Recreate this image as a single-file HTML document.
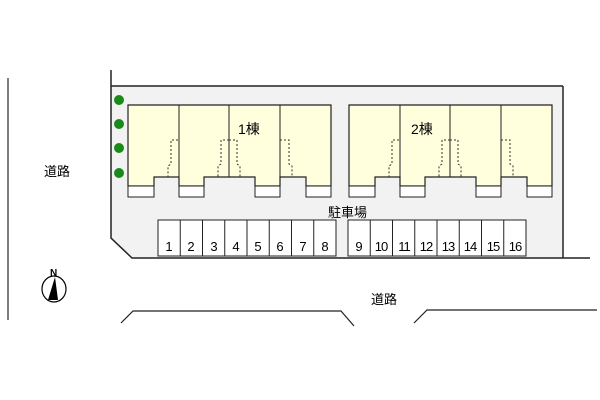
<!DOCTYPE html>
<html><head><meta charset="utf-8"><style>
html,body{margin:0;padding:0;background:#fff;width:600px;height:400px;overflow:hidden}
svg text{font-family:"Liberation Sans","Noto Sans CJK JP",sans-serif;fill:#000}
</style></head><body>
<svg width="600" height="400" viewBox="0 0 600 400" xmlns="http://www.w3.org/2000/svg">
<line x1="8" y1="78" x2="8" y2="320" stroke="#555" stroke-width="1.5"/>
<text x="44" y="176" font-size="13">道路</text>
<ellipse cx="54" cy="289" rx="12" ry="13" fill="#fff" stroke="#000" stroke-width="1.2"/>
<polygon points="55,277 48,300 58,300" fill="#000"/>
<text x="50" y="276" font-size="10" font-weight="bold">N</text>
<polygon points="111,86 563,86 563,258 132,258 111,238" fill="#f2f2f2" stroke="none"/>
<polyline points="111,70 111,238 132,258 590,258" fill="none" stroke="#222" stroke-width="1.5"/>
<line x1="111" y1="86" x2="563" y2="86" stroke="#222" stroke-width="1.5"/>
<line x1="563" y1="86" x2="563" y2="258" stroke="#222" stroke-width="1.5"/>
<g fill="#1a8a1a"><circle cx="119" cy="100" r="5"/><circle cx="119" cy="124" r="5"/><circle cx="119" cy="148" r="5"/><circle cx="119" cy="173" r="5"/></g>
<defs>
<g id="bld">
<polygon points="0,0 203,0 203,81 178,81 178,72 152,72 152,81 127,81 127,72 76,72 76,81 51,81 51,72 26,72 26,81 0,81" fill="#ffffdd" stroke="#222" stroke-width="1.2"/>
<rect x="0" y="81" width="26" height="11" fill="#fff" stroke="#222"/>
<rect x="51" y="81" width="25" height="11" fill="#fff" stroke="#222"/>
<rect x="127" y="81" width="25" height="11" fill="#fff" stroke="#222"/>
<rect x="178" y="81" width="25" height="11" fill="#fff" stroke="#222"/>
<g stroke="#222" stroke-width="1"><line x1="51" y1="0" x2="51" y2="72"/><line x1="101" y1="0" x2="101" y2="72"/><line x1="152" y1="0" x2="152" y2="72"/></g>
<g fill="none" stroke="#333" stroke-width="1" stroke-dasharray="2,2">
<polyline points="50,35 43,35 43,59 40,61 40,72"/>
<polyline points="101,35 93,35 93,59 90,61 90,72"/>
<polyline points="101,35 109,35 109,59 112,61 112,72"/>
<polyline points="152,35 161,35 161,59 164,61 164,72"/>
</g>
</g>
<g id="park">
<rect x="0" y="0" width="178" height="36" fill="#fff" stroke="#222"/>
<g stroke="#222"><line x1="22.25" y1="0" x2="22.25" y2="36"/><line x1="44.5" y1="0" x2="44.5" y2="36"/><line x1="66.75" y1="0" x2="66.75" y2="36"/><line x1="89" y1="0" x2="89" y2="36"/><line x1="111.25" y1="0" x2="111.25" y2="36"/><line x1="133.5" y1="0" x2="133.5" y2="36"/><line x1="155.75" y1="0" x2="155.75" y2="36"/></g>
</g>
</defs>
<use href="#bld" x="128" y="105"/>
<use href="#bld" x="349" y="105"/>
<text x="238" y="134" font-size="14">1棟</text>
<text x="411" y="134" font-size="14">2棟</text>
<text x="328" y="217" font-size="13">駐車場</text>
<use href="#park" x="158" y="220"/>
<use href="#park" x="348" y="220"/>
<g font-size="13">
<text x="169" y="251" text-anchor="middle">1</text><text x="191" y="251" text-anchor="middle">2</text><text x="214" y="251" text-anchor="middle">3</text><text x="236" y="251" text-anchor="middle">4</text><text x="258" y="251" text-anchor="middle">5</text><text x="280" y="251" text-anchor="middle">6</text><text x="303" y="251" text-anchor="middle">7</text><text x="325" y="251" text-anchor="middle">8</text>
<text x="359" y="251" text-anchor="middle">9</text><text x="381" y="251" text-anchor="middle" letter-spacing="-1">10</text><text x="404" y="251" text-anchor="middle" letter-spacing="-1">11</text><text x="426" y="251" text-anchor="middle" letter-spacing="-1">12</text><text x="448" y="251" text-anchor="middle" letter-spacing="-1">13</text><text x="470" y="251" text-anchor="middle" letter-spacing="-1">14</text><text x="493" y="251" text-anchor="middle" letter-spacing="-1">15</text><text x="515" y="251" text-anchor="middle" letter-spacing="-1">16</text>
</g>
<text x="371" y="304" font-size="13">道路</text>
<polyline points="121,323 133,311 341,311 354,326" fill="none" stroke="#222" stroke-width="1.2"/>
<polyline points="414,323 427,310 597,310" fill="none" stroke="#222" stroke-width="1.2"/>
</svg>
</body></html>
